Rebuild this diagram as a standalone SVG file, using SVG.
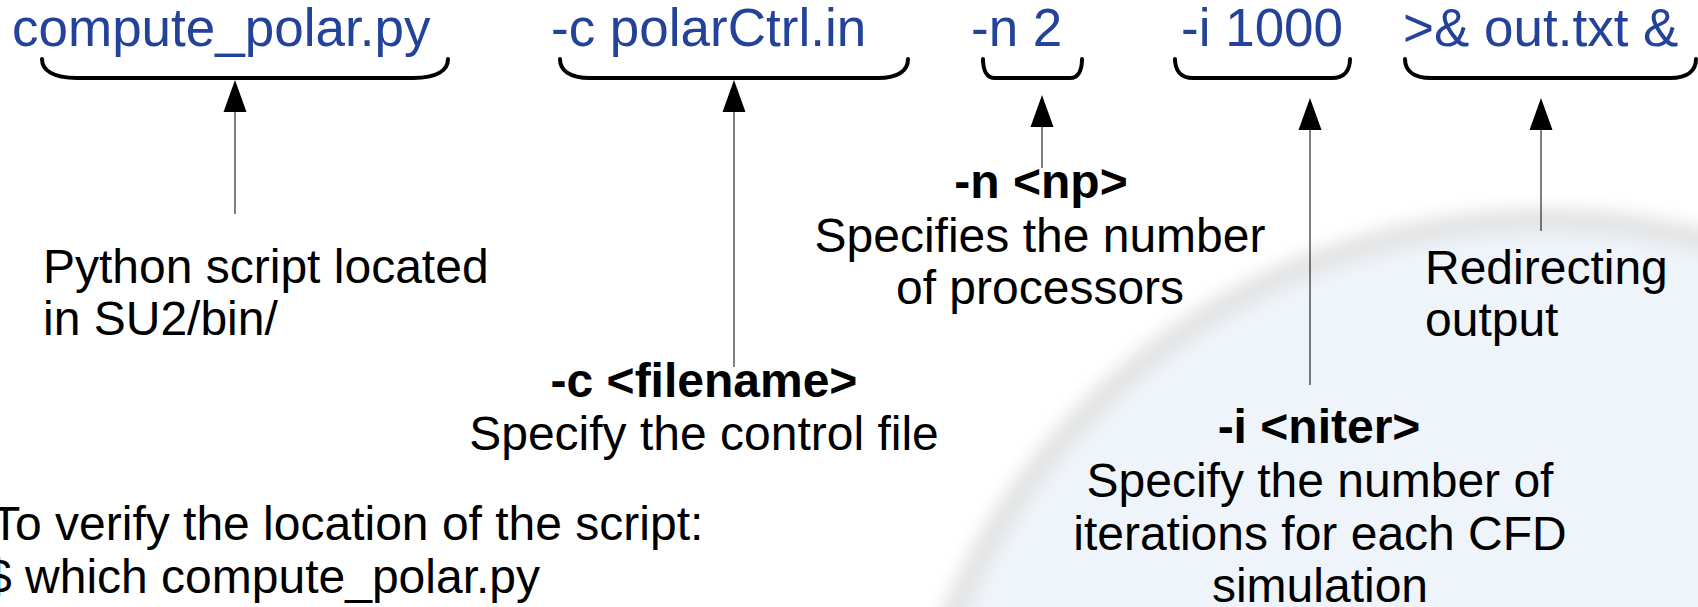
<svg xmlns="http://www.w3.org/2000/svg" width="1698" height="607" viewBox="0 0 1698 607">
  <style>
    .cmd { font-family: "Liberation Sans", Arial, sans-serif; font-size: 53px; fill: #23429a; }
    .txt { font-family: "Liberation Sans", Arial, sans-serif; font-size: 48px; fill: #000; }
    .bold { font-weight: bold; }
    .brace { fill: none; stroke: #000; stroke-width: 4; stroke-linecap: round; stroke-linejoin: round; }
    .link { stroke: #000; stroke-width: 1; fill: none; marker-end: url(#head); }
  </style>
  <defs>
    <marker id="head" markerUnits="userSpaceOnUse" markerWidth="33" markerHeight="24" refX="0" refY="11.5" orient="auto" overflow="visible">
      <path d="M0,0 L32,11.5 L0,23 Z" fill="#000"/>
    </marker>
    <filter id="soft" x="-10%" y="-10%" width="120%" height="120%">
      <feGaussianBlur stdDeviation="9"/>
    </filter>
  </defs>

  <rect width="1698" height="607" fill="#fff"/>

  <!-- faint emblem in the lower right corner -->
  <g id="emblem" filter="url(#soft)">
    <circle cx="1545" cy="862" r="642" fill="#eef4fa" stroke="#e1e1e1" stroke-width="22"/>
  </g>

  <!-- command tokens with their braces -->
  <g id="tok-compute">
    <text class="cmd" x="12" y="46">compute_polar.py</text>
    <path class="brace" d="M42,59 C42,70 52.5,78 77,78 H413 C437.5,78 448,70 448,59"/>
  </g>
  <g id="tok-ctrl">
    <text class="cmd" x="551" y="46">-c polarCtrl.in</text>
    <path class="brace" d="M560,59 C560,70 569,78 590,78 H878 C899,78 908,70 908,59"/>
  </g>
  <g id="tok-np">
    <text class="cmd" x="971" y="46">-n 2</text>
    <path class="brace" d="M983,59 C983,70 986.6,78 995,78 H1070 C1078.4,78 1082,70 1082,59"/>
  </g>
  <g id="tok-iter">
    <text class="cmd" x="1181" y="46">-i 1000</text>
    <path class="brace" d="M1175,59 C1175,70 1180.4,78 1193,78 H1332 C1344.6,78 1350,70 1350,59"/>
  </g>
  <g id="tok-out">
    <text class="cmd" x="1403" y="46">&gt;&amp; out.txt &amp;</text>
    <path class="brace" d="M1405,59 C1405,70 1412.8,78 1431,78 H1670 C1688.2,78 1696,70 1696,59"/>
  </g>

  <!-- descriptions -->
  <g id="desc-compute">
    <text class="txt" x="43" y="283">Python script located</text>
    <text class="txt" x="43" y="335">in SU2/bin/</text>
  </g>
  <g id="desc-ctrl" text-anchor="middle">
    <text class="txt bold" x="704" y="397">-c &lt;filename&gt;</text>
    <text class="txt" x="704" y="450">Specify the control file</text>
  </g>
  <g id="desc-np" text-anchor="middle">
    <text class="txt bold" x="1041" y="198">-n &lt;np&gt;</text>
    <text class="txt" x="1040" y="252">Specifies the number</text>
    <text class="txt" x="1040" y="304">of processors</text>
  </g>
  <g id="desc-iter" text-anchor="middle">
    <text class="txt bold" x="1319" y="443">-i &lt;niter&gt;</text>
    <text class="txt" x="1320" y="497">Specify the number of</text>
    <text class="txt" x="1320" y="550">iterations for each CFD</text>
    <text class="txt" x="1320" y="602">simulation</text>
  </g>
  <g id="desc-out">
    <text class="txt" x="1425" y="284">Redirecting</text>
    <text class="txt" x="1425" y="336">output</text>
  </g>
  <g id="note-verify">
    <text class="txt" x="-9" y="540">To verify the location of the script:</text>
    <text class="txt" x="-15" y="593">$ which compute_polar.py</text>
  </g>

  <!-- pointers from descriptions up to the braces -->
  <g id="connectors">
    <line class="link" x1="235" y1="214" x2="235" y2="112"/>
    <line class="link" x1="734" y1="367" x2="734" y2="112"/>
    <line class="link" x1="1042" y1="168" x2="1042" y2="127"/>
    <line class="link" x1="1310" y1="385" x2="1310" y2="130"/>
    <line class="link" x1="1541" y1="231" x2="1541" y2="130"/>
  </g>
</svg>
